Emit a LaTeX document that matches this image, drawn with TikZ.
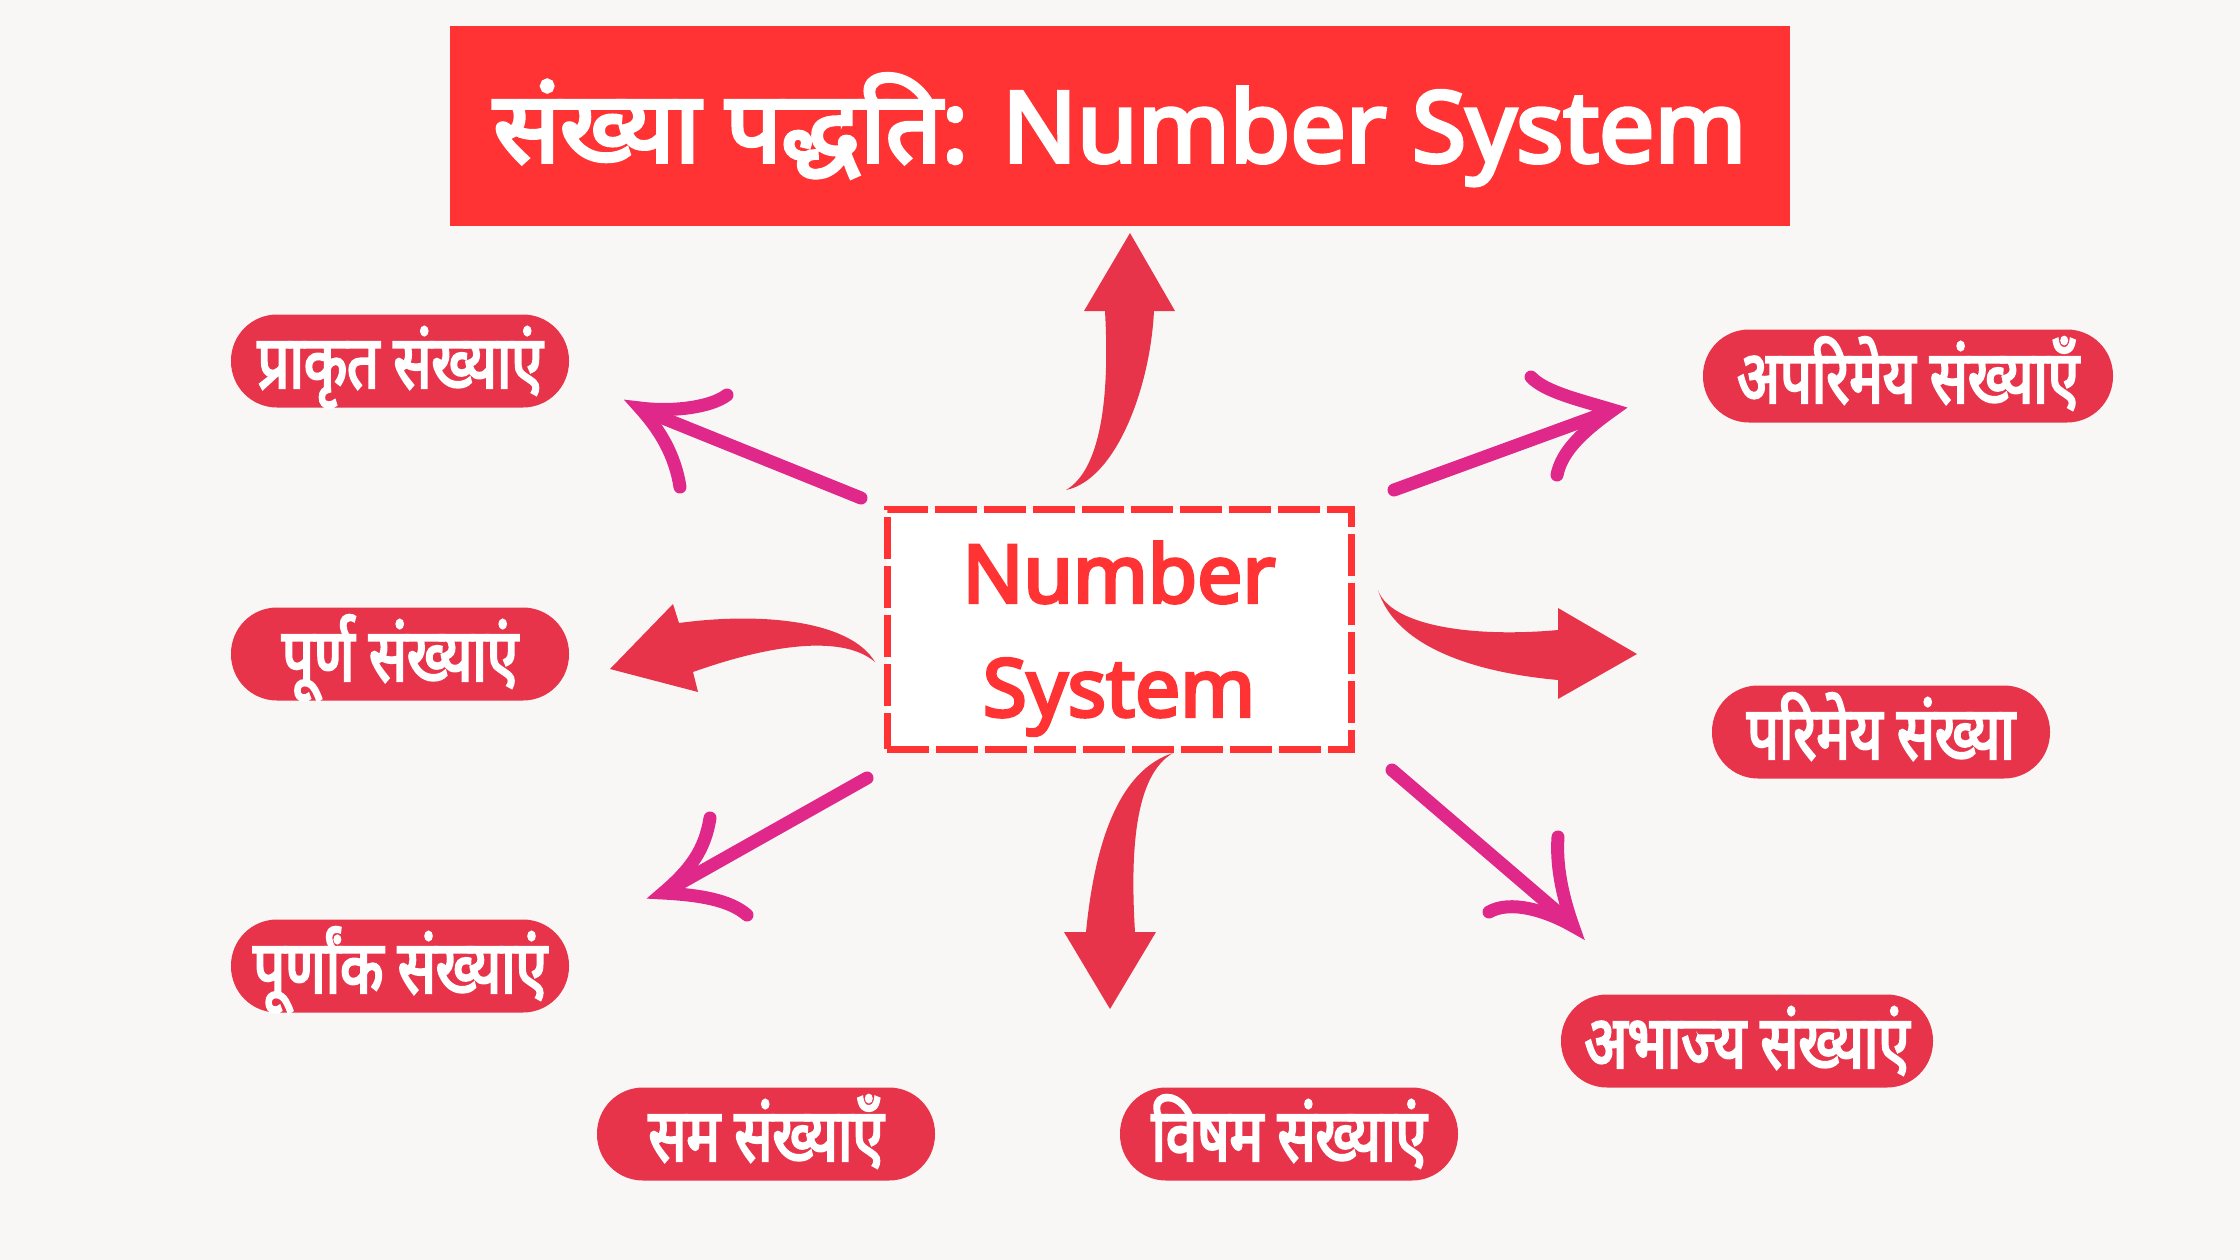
\documentclass[tikz,border=0pt]{standalone}
\usepackage{fontspec}
\setmainfont{Noto Sans}[Script=Devanagari,AutoFakeBold=4]
\newfontfamily\pillfont{Noto Sans}[Script=Devanagari,FakeStretch=0.76,AutoFakeBold=3.2]
\definecolor{titlered}{HTML}{FF3333}
\definecolor{pillred}{HTML}{E8344A}
\definecolor{arrowpink}{HTML}{E0288A}
\definecolor{bgcol}{HTML}{F9F7F5}
\begin{document}
\begin{tikzpicture}[x=0.1mm,y=-0.1mm,
  titlebox/.style={fill=titlered,text=white,minimum width=134mm,minimum height=20mm,
    text height=8mm,text depth=0.8mm,font={\bfseries\fontsize{28}{32}\selectfont}},
  centerbox/.style={draw=titlered,fill=white,text=titlered,line width=0.7mm,
    dash pattern=on 4.2mm off 0.7mm,minimum width=46.4mm,minimum height=24mm,align=center,
    text depth=0pt,font={\bfseries\fontsize{22.8}{32.4}\selectfont}},
  pill/.style={fill=pillred,text=white,rounded corners=4.6mm,minimum width=33.8mm,minimum height=9.3mm,
    inner ysep=0pt,text height=6.1mm,text depth=0.7mm,font={\pillfont\bfseries\fontsize{21}{24}\selectfont}},
  blockarrow/.style={fill=pillred},
  thinarrow/.style={draw=arrowpink,line width=1.3mm,line cap=round}]
\fill[bgcol] (0,0) rectangle (2240,1260);
\useasboundingbox (0,0) rectangle (2240,1260);
\node[titlebox] (title) at (1120,126) {संख्या पद्धति: Number System};
\node[centerbox] (ns) at (1119,629) {Number\\System};
\node[pill] (prakrit) at (400,361) {प्राकृत संख्याएं};
\node[pill] (purna) at (400,654) {पूर्ण संख्याएं};
\node[pill] (purnank) at (400,966) {पूर्णांक संख्याएं};
\node[pill] (sam) at (766,1134) {सम संख्याएँ};
\node[pill] (visham) at (1289,1134) {विषम संख्याएं};
\node[pill,minimum width=37.2mm] (abhajya) at (1747,1041) {अभाज्य संख्याएं};
\node[pill] (parimey) at (1881,732) {परिमेय संख्या};
\node[pill,minimum width=41mm] (aparimey) at (1908,376) {अपरिमेय संख्याएँ};
% block arrows
\fill[blockarrow] (1066,490) .. controls (1100,470) and (1110,400) .. (1105,311) -- (1084,311) -- (1130,233)
  -- (1175,311) -- (1154,311) .. controls (1150,390) and (1115,480) .. (1066,490) -- cycle;
\fill[blockarrow] (1173,753) .. controls (1120,770) and (1095,840) .. (1086,932) -- (1064,932) -- (1110,1009)
  -- (1156,932) -- (1135,932) .. controls (1130,850) and (1135,775) .. (1173,753) -- cycle;
\fill[blockarrow] (1378,590) .. controls (1390,625) and (1470,638) .. (1558,630) -- (1558,608) -- (1637,654)
  -- (1558,699) -- (1558,680) .. controls (1470,672) and (1395,645) .. (1378,590) -- cycle;
\fill[blockarrow] (875,662) .. controls (850,620) and (760,612) .. (679,623) -- (673,604) -- (610,669)
  -- (698,692) -- (693,672) .. controls (760,648) and (840,632) .. (875,662) -- cycle;
% pink arrows
\draw[thinarrow] (861,498) -- (648,412);
\draw[thinarrow] (727,395) .. controls (710,408) and (670,412) .. (640,408) .. controls (660,430) and (675,455) .. (680,487);
\draw[thinarrow] (1394,490) -- (1605,413);
\draw[thinarrow] (1531,377) .. controls (1545,392) and (1580,400) .. (1613,410) .. controls (1585,430) and (1562,450) .. (1557,475);
\draw[thinarrow] (867,778) -- (670,889);
\draw[thinarrow] (710,818) .. controls (705,850) and (690,870) .. (663,893) .. controls (700,895) and (730,900) .. (747,915);
\draw[thinarrow] (1392,770) -- (1567,920);
\draw[thinarrow] (1558,837) .. controls (1556,865) and (1562,895) .. (1573,926) .. controls (1545,910) and (1510,900) .. (1489,912);
\end{tikzpicture}
\end{document}
